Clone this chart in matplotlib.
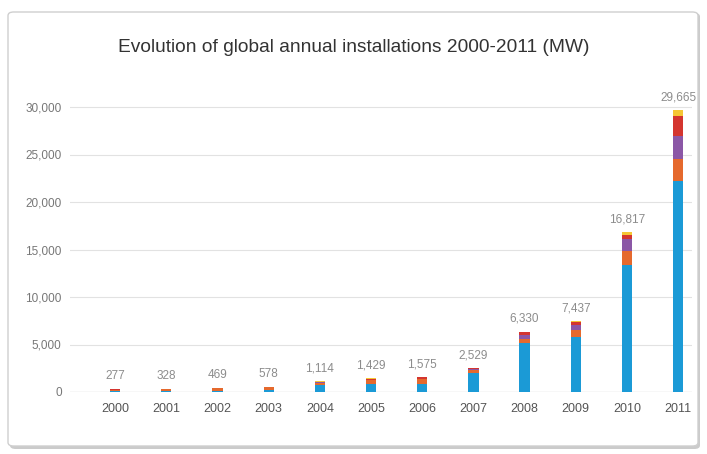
import numpy as np
import matplotlib.pyplot as plt
from matplotlib.patches import FancyBboxPatch

plt.rcParams['font.family'] = ['Liberation Sans', 'DejaVu Sans']

# Installed capacity per year and region (MW)
years = ['2000', '2001', '2002', '2003', '2004', '2005',
         '2006', '2007', '2008', '2009', '2010', '2011']
europe = [60, 130, 150, 220, 690, 870, 830, 1990, 5200, 5833, 13367, 22259]
americas = [150, 140, 240, 270, 300, 400, 490, 360, 420, 700, 1500, 2229]
china = [20, 10, 20, 20, 40, 30, 50, 40, 380, 500, 1250, 2500]
apac = [40, 40, 50, 60, 50, 100, 180, 130, 280, 300, 400, 2102]
row = [7, 8, 9, 8, 34, 29, 25, 9, 50, 104, 300, 575]

series = [europe, americas, china, apac, row]
colors = ['#1b9ad6', '#e5692d', '#8b57a6', '#d4352f', '#f5c634']

fig = plt.figure(figsize=(7.07, 4.54), dpi=100)

# rounded frame with a soft shadow
W, H = 707, 454
shadow = FancyBboxPatch((10 / W, 5 / H), 690 / W, 436 / H,
                        boxstyle='round,pad=0,rounding_size=0.008',
                        transform=fig.transFigure, facecolor='#b5b5b5',
                        edgecolor='none', alpha=0.7, zorder=0)
frame = FancyBboxPatch((8 / W, 8 / H), 690 / W, 434 / H,
                       boxstyle='round,pad=0,rounding_size=0.008',
                       transform=fig.transFigure, facecolor='white',
                       edgecolor='#cfcfcf', linewidth=1.0, zorder=1)
fig.patches.extend([shadow, frame])

fig.text(0.5, 1 - 47 / H, 'Evolution of global annual installations 2000-2011 (MW)',
         ha='center', va='center', fontsize=13.8, color='#333333')

ax = fig.add_axes([70 / W, 62 / H, 622 / W, 299.25 / H])
ax.set_facecolor('none')
ax.set_zorder(2)

x = np.arange(len(years))
bottom = np.zeros(len(years))
for vals, c in zip(series, colors):
    ax.bar(x, vals, width=0.2, bottom=bottom, color=c, zorder=3)
    bottom += np.array(vals)

totals = bottom
for xi, t in zip(x, totals):
    ax.annotate(f'{int(t):,}', (xi, t), xytext=(0, 5), textcoords='offset points',
                ha='center', va='bottom', fontsize=8.5, color='#8c8c8c')

ax.set_xlim(-0.88, 11.27)
ax.set_ylim(0, 31500)
ax.set_yticks(np.arange(0, 30001, 5000))
ax.set_yticklabels([f'{v:,}' for v in range(0, 30001, 5000)])
ax.set_xticks(x)
ax.set_xticklabels(years)

ax.grid(axis='y', color='#e2e2e2', linewidth=0.8, zorder=0)
ax.axhline(0, color='#d0d0d0', linewidth=0.9, zorder=1)
for s in ax.spines.values():
    s.set_visible(False)
ax.tick_params(axis='y', length=0, pad=6, labelsize=8.5, labelcolor='#777777')
ax.tick_params(axis='x', length=0, pad=8, labelsize=9, labelcolor='#555555')

fig.savefig('out.png', dpi=100)
